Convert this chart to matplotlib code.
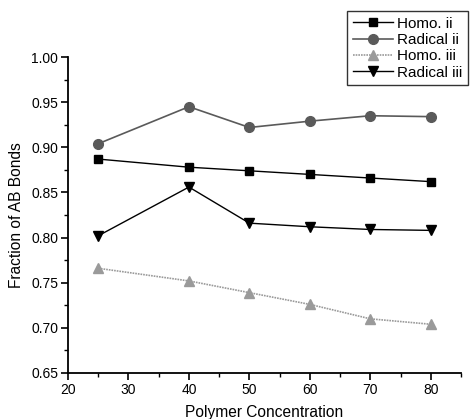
import matplotlib
matplotlib.use("Agg")
import matplotlib.pyplot as plt
from matplotlib.ticker import MultipleLocator

plt.rcParams['font.family'] = ['Liberation Sans', 'DejaVu Sans']

conc = [25, 40, 50, 60, 70, 80]
homo_ii = [0.887, 0.878, 0.874, 0.870, 0.866, 0.862]
radical_ii = [0.904, 0.945, 0.922, 0.929, 0.935, 0.934]
homo_iii = [0.766, 0.752, 0.739, 0.726, 0.710, 0.704]
radical_iii = [0.802, 0.856, 0.816, 0.812, 0.809, 0.808]

fig = plt.figure(figsize=(4.74, 4.19), dpi=100)
ax = fig.add_axes([0.1435, 0.1098, 0.829, 0.754])

ax.plot(conc, homo_ii, color='black', marker='s', ms=5.5, lw=1.0, label='Homo. ii')
ax.plot(conc, radical_ii, color='#5a5a5a', marker='o', ms=7, lw=1.2, label='Radical ii')
ax.plot(conc, homo_iii, color='#9a9a9a', marker='^', ms=7, lw=1.2, ls=(0, (1, 0.6)), label='Homo. iii')
ax.plot(conc, radical_iii, color='black', marker='v', ms=7, lw=1.0, label='Radical iii')

ax.set_xlim(20, 85)
ax.set_ylim(0.65, 1.00)
ax.xaxis.set_major_locator(MultipleLocator(10))
ax.xaxis.set_minor_locator(MultipleLocator(5))
ax.yaxis.set_major_locator(MultipleLocator(0.05))
ax.yaxis.set_minor_locator(MultipleLocator(0.025))
ax.set_xticks([20, 30, 40, 50, 60, 70, 80])
ax.set_yticklabels([f"{v:.2f}" for v in ax.get_yticks()])

for s in ['top', 'right']:
    ax.spines[s].set_visible(False)
for s in ['left', 'bottom']:
    ax.spines[s].set_linewidth(1.3)

ax.tick_params(which='major', direction='out', length=5, width=1.2, labelsize=10, pad=2)
ax.tick_params(which='minor', direction='out', length=3, width=1.0)

ax.set_xlabel('Polymer Concentration', fontsize=11.2, labelpad=6)
ax.set_ylabel('Fraction of AB Bonds', fontsize=11.2, labelpad=5)

leg = fig.legend(loc='upper left', bbox_to_anchor=(0.733, 0.973), fontsize=11,
                 frameon=True, fancybox=False, edgecolor='black', handlelength=2.6,
                 handletextpad=0.3, labelspacing=0.15, borderpad=0.35, borderaxespad=0)
leg.get_frame().set_linewidth(1.0)

fig.savefig('out.png', dpi=100)
